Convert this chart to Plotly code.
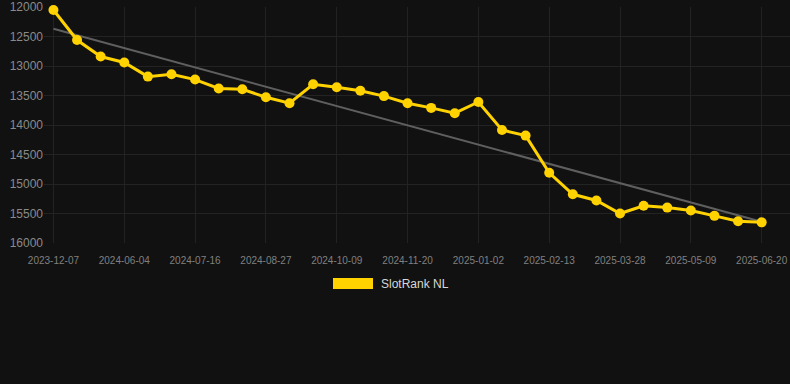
import plotly.graph_objects as go

dates = ["2023-12-07", "2024-05-07", "2024-05-21", "2024-06-04", "2024-06-18",
         "2024-07-02", "2024-07-16", "2024-07-30", "2024-08-13", "2024-08-27",
         "2024-09-10", "2024-09-24", "2024-10-09", "2024-10-23", "2024-11-06",
         "2024-11-20", "2024-12-04", "2024-12-18", "2025-01-02", "2025-01-16",
         "2025-01-30", "2025-02-13", "2025-02-27", "2025-03-13", "2025-03-28",
         "2025-04-11", "2025-04-25", "2025-05-09", "2025-05-23", "2025-06-06",
         "2025-06-20"]
ranks = [12050, 12560, 12840, 12940, 13180, 13140, 13230, 13380, 13395, 13530,
         13630, 13310, 13360, 13420, 13510, 13630, 13710, 13800, 13610, 14085,
         14180, 14810, 15175, 15280, 15500, 15370, 15400, 15450, 15540, 15630,
         15650]
trend_values = [12370, 15640]
y_ticks = [12000, 12500, 13000, 13500, 14000, 14500, 15000, 15500, 16000]
series_name = "SlotRank NL"

tick_dates = dates[::3]

fig = go.Figure()
fig.add_trace(go.Scatter(
    x=[dates[0], dates[-1]], y=trend_values, mode="lines",
    line=dict(color="#5f5f5f", width=2), hoverinfo="skip", showlegend=False,
))
fig.add_trace(go.Scatter(
    x=dates, y=ranks, mode="lines+markers", name=series_name,
    line=dict(color="#FFD200", width=3),
    marker=dict(color="#FFD200", size=10),
    cliponaxis=False, showlegend=False,
))

fig.update_layout(
    width=790, height=384,
    paper_bgcolor="#111111", plot_bgcolor="#111111",
    margin=dict(l=44, r=0, t=7, b=141),
    font=dict(family="Liberation Sans, Arial, sans-serif", color="#8a8a8a"),
    xaxis=dict(
        type="category", categoryorder="array", categoryarray=dates,
        range=[-0.4, 31.2],
        tickmode="array", tickvals=tick_dates, ticktext=tick_dates,
        showgrid=True, gridcolor="#222222", gridwidth=1,
        zeroline=False, showline=False,
        ticks="outside", ticklen=8, tickcolor="#111111",
        tickfont=dict(size=10, color="#808080"), tickangle=0,
    ),
    yaxis=dict(
        range=[16000, 12000], tickmode="array", tickvals=y_ticks,
        ticktext=[str(v) for v in y_ticks],
        showgrid=True, gridcolor="#232323", gridwidth=1,
        zeroline=False, showline=False, ticks="",
        tickfont=dict(size=12, color="#8a8a8a"),
    ),
    shapes=[dict(
        type="rect", xref="paper", yref="paper",
        x0=(333 - 44) / 746, x1=(373 - 44) / 746,
        y0=(384 - 141 - 289) / 236, y1=(384 - 141 - 278) / 236,
        fillcolor="#FFD200", line=dict(width=0),
    )],
    annotations=[dict(
        text=series_name, xref="paper", yref="paper",
        x=(379 - 44) / 746, y=(384 - 141 - 284) / 236,
        xanchor="left", yanchor="middle", showarrow=False,
        font=dict(size=12, color="#d8d8d8"),
    )],
)

fig.write_html(
    "out.html",
    config={"displayModeBar": False},
    post_script="document.body.style.margin='0';document.body.style.background='#111111';",
)
